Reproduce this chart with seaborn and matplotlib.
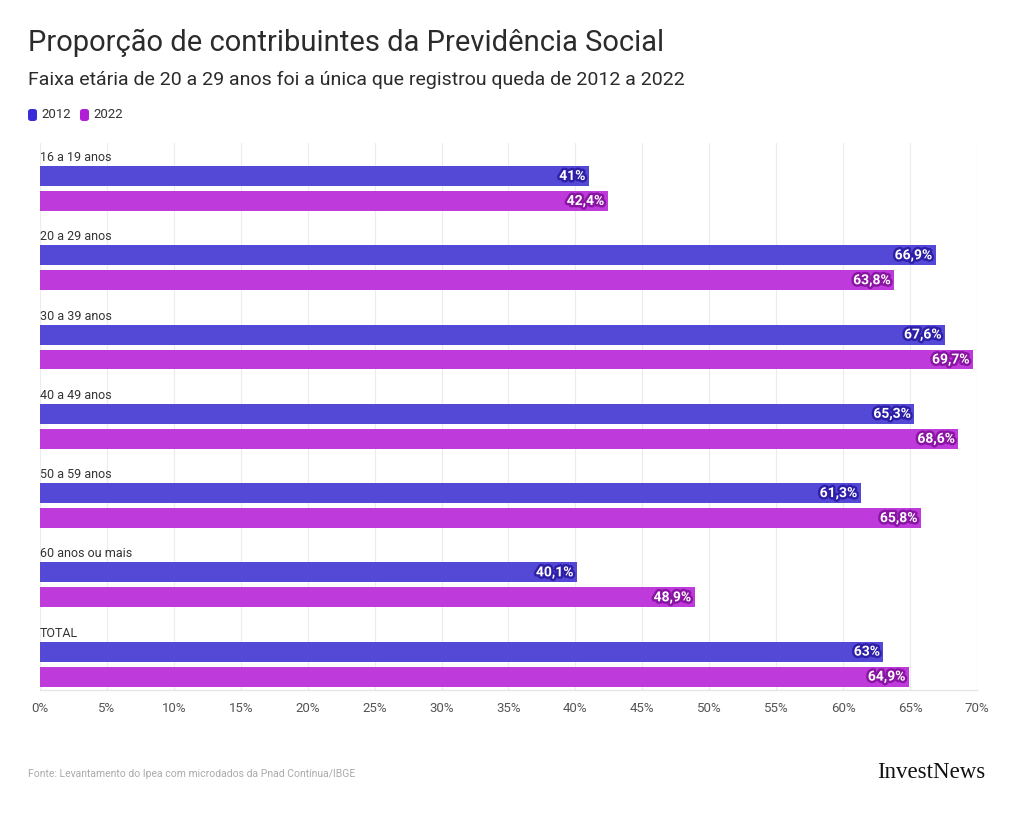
import matplotlib
matplotlib.use("Agg")
import matplotlib.pyplot as plt
import matplotlib.patheffects as pe
from matplotlib.patches import FancyBboxPatch
import seaborn as sns
import pandas as pd

categories = ["16 a 19 anos", "20 a 29 anos", "30 a 39 anos", "40 a 49 anos",
              "50 a 59 anos", "60 anos ou mais", "TOTAL"]
years = ["2012", "2022"]
v2012 = [41, 66.9, 67.6, 65.3, 61.3, 40.1, 63]
v2022 = [42.4, 63.8, 69.7, 68.6, 65.8, 48.9, 64.9]
xticks = [0, 5, 10, 15, 20, 25, 30, 35, 40, 45, 50, 55, 60, 65, 70]

df = pd.DataFrame({
    "faixa": categories * 2,
    "ano": [years[0]] * len(categories) + [years[1]] * len(categories),
    "valor": v2012 + v2022,
})

bar_colors = {"2012": "#5449D6", "2022": "#BE3ADB"}
legend_colors = {"2012": "#3A2BD8", "2022": "#B01FD6"}
stroke_colors = {"2012": "#2E1FA8", "2022": "#8A14A3"}

sns.set_theme(style="white")
plt.rcParams["font.family"] = ["Roboto", "DejaVu Sans"]

fig = plt.figure(figsize=(10.2, 8.39), dpi=100)
W, H = 1020, 839
ax_left, ax_right, ax_top, ax_bottom = 40, 977, 143, 690
ax = fig.add_axes([ax_left / W, 1 - ax_bottom / H, (ax_right - ax_left) / W, (ax_bottom - ax_top) / H])

sns.barplot(data=df, y="faixa", x="valor", hue="ano", orient="h", ax=ax,
            palette=bar_colors, width=0.63, gap=0.2, legend=False,
            saturation=1, edgecolor="none")

ax.set_xlim(0, 70)
ax.set_ylim(6.3265, -0.5735)
ax.set_xticks(xticks)
ax.set_xticklabels([f"{t}%" for t in xticks], fontsize=9.5, color="#555555")
ax.tick_params(axis="x", length=0, pad=9)
ax.set_yticks([])
ax.set_xlabel("")
ax.set_ylabel("")
for s in ["top", "right", "left"]:
    ax.spines[s].set_visible(False)
ax.spines["bottom"].set_color("#e6e6e6")
ax.spines["bottom"].set_linewidth(1)
ax.grid(axis="x", color="#ececec", linewidth=0.8)
ax.set_axisbelow(True)

# category labels
for i, c in enumerate(categories):
    ax.text(0, i - 0.39, c, fontsize=9, color="#333333", ha="left", va="center")

def fmt(v):
    if float(v).is_integer():
        return f"{int(v)}%"
    return f"{v:.1f}".replace(".", ",") + "%"

for cont, yr in zip(ax.containers, years):
    for p in cont.patches:
        w = p.get_width()
        yc = p.get_y() + p.get_height() / 2
        ax.annotate(fmt(w), xy=(w, yc), xytext=(-2.5, 0), textcoords="offset points",
                    ha="right", va="center", fontsize=10, fontweight="bold", color="white",
                    path_effects=[pe.withStroke(linewidth=3.5, foreground=stroke_colors[yr])])

fig.text(28 / W, 1 - 43 / H, "Proporção de contribuintes da Previdência Social",
         fontsize=21, color="#2b2b2b", ha="left", va="center")
fig.text(28 / W, 1 - 80 / H, "Faixa etária de 20 a 29 anos foi a única que registrou queda de 2012 a 2022",
         fontsize=14, color="#2b2b2b", ha="left", va="center")

# legend with rounded swatches
lx = 28
for yr in years:
    sw = FancyBboxPatch((lx / W, 1 - 121 / H), 9 / W, 12 / H,
                        boxstyle="round,pad=0,rounding_size=0.003",
                        transform=fig.transFigure, facecolor=legend_colors[yr],
                        edgecolor="none")
    fig.add_artist(sw)
    t = fig.text((lx + 13) / W, 1 - 115 / H, yr, fontsize=9.5, color="#333333",
                 ha="left", va="center")
    lx += 52

fig.text(28 / W, 1 - 774 / H, "Fonte: Levantamento do Ipea com microdados da Pnad Contínua/IBGE",
         fontsize=7.5, color="#aaaaaa", ha="left", va="center")
fig.text(985 / W, 1 - 773 / H, "InvestNews", fontsize=16.5, color="#111111",
         ha="right", va="center", family="Liberation Serif")

fig.savefig("out.png", dpi=100, facecolor="white")
